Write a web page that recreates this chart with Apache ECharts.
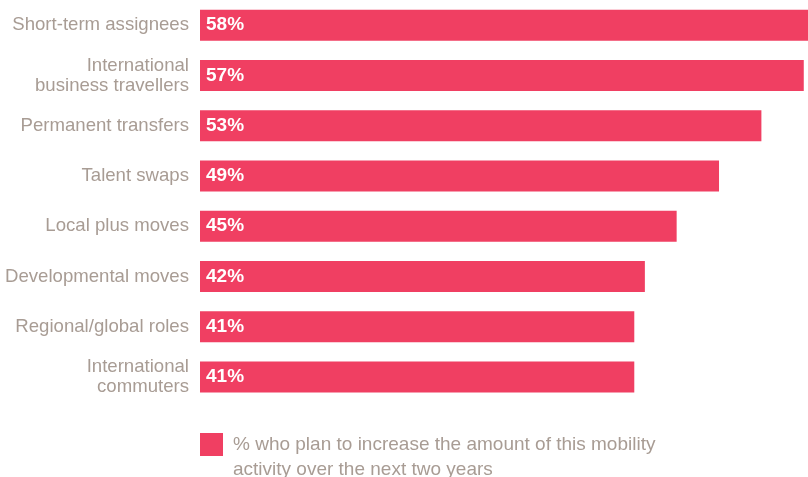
<!DOCTYPE html>
<html>
<head>
<meta charset="utf-8">
<script src="https://cdn.jsdelivr.net/npm/echarts@6/dist/echarts.min.js"></script>
<style>
  html, body { margin: 0; padding: 0; background: #ffffff; }
  #chart { width: 808px; height: 477px; }
</style>
</head>
<body>
<div id="chart"></div>
<script>
// Mobility activities, listed top to bottom
const categories = [
  'Short-term assignees',
  'International\nbusiness travellers',
  'Permanent transfers',
  'Talent swaps',
  'Local plus moves',
  'Developmental moves',
  'Regional/global roles',
  'International\ncommuters'
];
// Share of respondents planning an increase (%)
const values = [58, 57, 53, 49, 45, 42, 41, 41];
const seriesName = '% who plan to increase the amount of this mobility\nactivity over the next two years';

const BAR = '#f03f62';
const TEXT = '#a89c94';
const FONT = '"Liberation Sans", Arial, Helvetica, sans-serif';

const chart = echarts.init(document.getElementById('chart'), null, { renderer: 'canvas' });
chart.setOption({
  animation: false,
  backgroundColor: '#ffffff',
  grid: { left: 200, top: 0, right: 0, height: 402, containLabel: false },
  xAxis: {
    type: 'value', min: 0, max: 57.4,
    show: false
  },
  yAxis: {
    type: 'category',
    inverse: true,
    data: categories,
    axisLine: { show: false },
    axisTick: { show: false },
    splitLine: { show: false },
    axisLabel: {
      color: TEXT, fontFamily: FONT, fontSize: 18.6, lineHeight: 20,
      margin: 11, align: 'right'
    }
  },
  legend: {
    left: 200, top: 407,
    padding: 0,
    orient: 'vertical',
    icon: 'rect',
    itemWidth: 23, itemHeight: 23, itemGap: 0,
    // leading blank line keeps the first text line level with the swatch
    formatter: name => '\n' + name,
    textStyle: {
      color: TEXT, fontFamily: FONT, fontSize: 19, lineHeight: 25,
      padding: [0, 0, 0, 5]
    },
    data: [seriesName]
  },
  series: [{
    name: seriesName,
    type: 'bar',
    data: values,
    barWidth: 31,
    itemStyle: { color: BAR },
    label: {
      show: true, position: 'insideLeft', distance: 6,
      formatter: '{c}%', color: '#ffffff',
      fontFamily: FONT, fontSize: 19, fontWeight: 'bold'
    }
  }]
});
</script>
</body>
</html>
